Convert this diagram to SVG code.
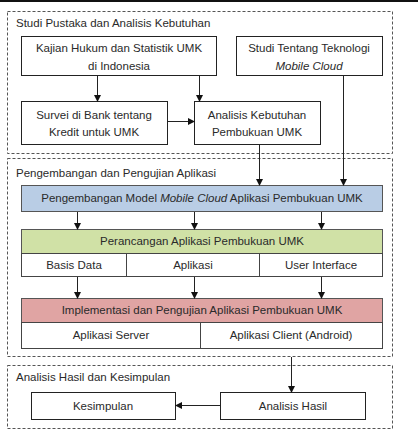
<svg xmlns="http://www.w3.org/2000/svg" width="418" height="437" viewBox="0 0 418 437">
<style>
text{font-family:"Liberation Sans",Arial,sans-serif;font-size:11.5px;fill:#2a2a2a;}
.c{text-anchor:middle;}
.grp{fill:none;stroke:#555;stroke-width:1;stroke-dasharray:3,2;}
.box{fill:#fff;stroke:#222;stroke-width:1;}
.fbox{stroke:#555;stroke-width:1;}
.ln{stroke:#222;stroke-width:1;fill:none;marker-end:url(#ah);}
</style>
<defs>
<marker id="ah" markerWidth="7" markerHeight="7" refX="6" refY="3.5" orient="auto" markerUnits="userSpaceOnUse">
<path d="M0,0 L7,3.5 L0,7 Z" fill="#111"/>
</marker>
</defs>
<rect x="0" y="0" width="418" height="2" fill="#111"/>

<g id="grp1">
<rect class="grp" x="7.5" y="11.5" width="385" height="142"/>
<text x="16" y="27">Studi Pustaka dan Analisis Kebutuhan</text>
</g>
<g id="kajian">
<rect class="box" x="21.5" y="36.5" width="195" height="39"/>
<text class="c" x="119" y="52">Kajian Hukum  dan Statistik UMK</text>
<text class="c" x="119" y="70">di Indonesia</text>
</g>
<g id="studi">
<rect class="box" x="236.5" y="36.5" width="146" height="39"/>
<text class="c" x="309" y="52">Studi Tentang Teknologi</text>
<text class="c" x="309" y="70" font-style="italic">Mobile Cloud</text>
</g>
<g id="survei">
<rect class="box" x="21.5" y="101.5" width="146" height="43"/>
<text class="c" x="94" y="119">Survei di Bank tentang</text>
<text class="c" x="94" y="136">Kredit untuk UMK</text>
</g>
<g id="analisis">
<rect class="box" x="194.5" y="101.5" width="126" height="43"/>
<text class="c" x="257" y="119">Analisis Kebutuhan</text>
<text class="c" x="257" y="136">Pembukuan UMK</text>
</g>

<g id="grp2">
<rect class="grp" x="7.5" y="158.5" width="385" height="198"/>
<text x="16" y="177">Pengembangan dan Pengujian Aplikasi</text>
</g>
<g id="model">
<rect class="fbox" x="21.5" y="185.5" width="361" height="26" fill="#b9cde5"/>
<text class="c" x="202" y="202">Pengembangan Model <tspan font-style="italic">Mobile Cloud</tspan> Aplikasi Pembukuan UMK</text>
</g>
<g id="perancangan">
<rect class="fbox" x="21.5" y="229.5" width="361" height="24" fill="#d0e1a6"/>
<text class="c" x="202" y="245">Perancangan Aplikasi Pembukuan UMK</text>
<rect class="box" x="21.5" y="253.5" width="105" height="23" style="stroke:#444"/>
<rect class="box" x="126.5" y="253.5" width="133" height="23" style="stroke:#444"/>
<rect class="box" x="259.5" y="253.5" width="123" height="23" style="stroke:#444"/>
<text class="c" x="74" y="269">Basis Data</text>
<text class="c" x="193" y="269">Aplikasi</text>
<text class="c" x="321" y="269">User Interface</text>
</g>
<g id="implementasi">
<rect class="fbox" x="21.5" y="298.5" width="361" height="24" fill="#e0a4a3"/>
<text class="c" x="202" y="314">Implementasi dan Pengujian Aplikasi Pembukuan UMK</text>
<rect class="box" x="21.5" y="322.5" width="179" height="26" style="stroke:#444"/>
<rect class="box" x="200.5" y="322.5" width="182" height="26" style="stroke:#444"/>
<text class="c" x="111" y="339">Aplikasi Server</text>
<text class="c" x="291" y="339">Aplikasi Client (Android)</text>
</g>

<g id="grp3">
<rect class="grp" x="7.5" y="365.5" width="385" height="63"/>
<text x="16" y="381">Analisis Hasil dan Kesimpulan</text>
</g>
<g id="kesimpulan">
<rect class="box" x="31.5" y="392.5" width="144" height="27"/>
<text class="c" x="103" y="410">Kesimpulan</text>
</g>
<g id="hasil">
<rect class="box" x="220.5" y="392.5" width="145" height="27"/>
<text class="c" x="293" y="410">Analisis Hasil</text>
</g>

<g id="connectors">
<line class="ln" x1="97.5" y1="76" x2="97.5" y2="101"/>
<line class="ln" x1="199.5" y1="76" x2="199.5" y2="101"/>
<line class="ln" x1="168" y1="121.5" x2="194" y2="121.5"/>
<line class="ln" x1="259.5" y1="145" x2="259.5" y2="185"/>
<line class="ln" x1="343.5" y1="76" x2="343.5" y2="185"/>
<line class="ln" x1="77.5" y1="212" x2="77.5" y2="229"/>
<line class="ln" x1="194.5" y1="212" x2="194.5" y2="229"/>
<line class="ln" x1="321.5" y1="212" x2="321.5" y2="229"/>
<line class="ln" x1="77.5" y1="277" x2="77.5" y2="298"/>
<line class="ln" x1="194.5" y1="277" x2="194.5" y2="298"/>
<line class="ln" x1="321.5" y1="277" x2="321.5" y2="298"/>
<line class="ln" x1="291.5" y1="357" x2="291.5" y2="392"/>
<line class="ln" x1="220" y1="405.5" x2="176" y2="405.5"/>
</g>
</svg>
